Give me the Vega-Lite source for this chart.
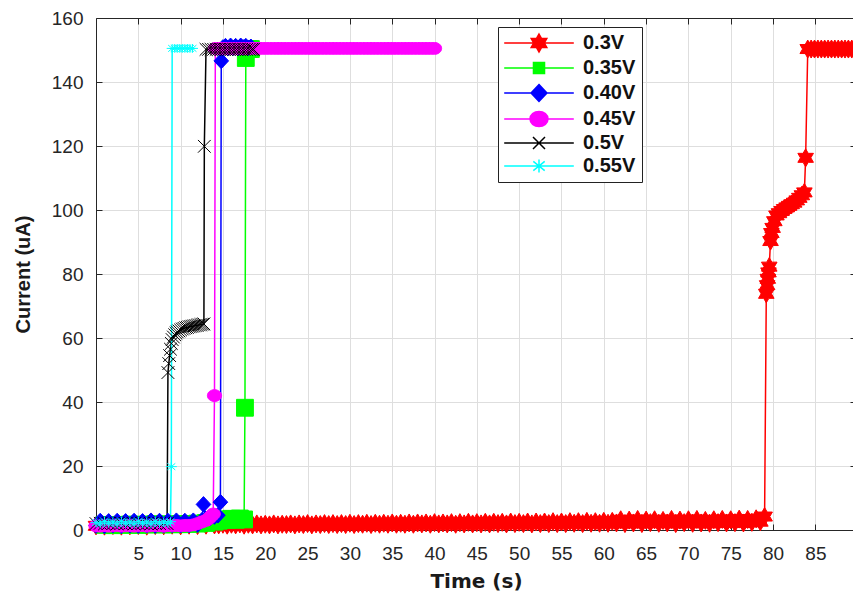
{
 "$schema": "https://vega.github.io/schema/vega-lite/v6.json",
 "autosize": "none",
 "width": 760,
 "height": 512,
 "padding": {"left": 96, "top": 18, "right": 0, "bottom": 64},
 "background": "white",
 "config": {
  "view": {"stroke": null},
  "axis": {
   "labelFont": "Liberation Sans", "labelFontSize": 19, "labelColor": "#262626",
   "titleFont": "Liberation Sans", "titleFontSize": 20, "titleFontWeight": "bold", "titleColor": "#1a1a1a",
   "domainColor": "#262626", "domainWidth": 1, "tickColor": "#262626", "tickWidth": 1,
   "gridColor": "#dedede", "gridWidth": 1, "labelFlush": false, "labelOverlap": false
  },
  "legend": {
   "orient": "none", "legendX": 402, "legendY": 9, "direction": "vertical",
   "strokeColor": "#222222", "fillColor": "white", "padding": 6, "symbolSize": 144, "symbolStrokeWidth": 1.5, "symbolOpacity": 1,
   "symbolOffset": 25, "labelOffset": 34, "rowPadding": 3,
   "labelFont": "Liberation Sans", "labelFontSize": 20, "labelFontWeight": "bold", "labelColor": "#111111"
  }
 },
 "datasets": {
  "d": [
   {"s":"0.3V","t":0,"c":1.3},{"s":"0.3V","t":1,"c":1.2},{"s":"0.3V","t":2,"c":1.4},{"s":"0.3V","t":3,"c":1.2},{"s":"0.3V","t":4,"c":1.3},{"s":"0.3V","t":5,"c":1.4},{"s":"0.3V","t":6,"c":1.2},{"s":"0.3V","t":7,"c":1.4},{"s":"0.3V","t":8,"c":1.3},{"s":"0.3V","t":9,"c":1.5},{"s":"0.3V","t":10,"c":1.3},{"s":"0.3V","t":11,"c":1.5},{"s":"0.3V","t":12,"c":1.4},{"s":"0.3V","t":13,"c":1.5},{"s":"0.3V","t":14,"c":1.6},
   {"s":"0.3V","t":14.5,"c":1.6},{"s":"0.3V","t":15,"c":1.8},{"s":"0.3V","t":15.5,"c":1.5},{"s":"0.3V","t":16,"c":1.8},{"s":"0.3V","t":16.5,"c":1.6},{"s":"0.3V","t":17,"c":1.9},{"s":"0.3V","t":17.5,"c":1.5},{"s":"0.3V","t":18,"c":1.8},{"s":"0.3V","t":18.5,"c":1.6},{"s":"0.3V","t":19,"c":1.9},{"s":"0.3V","t":19.5,"c":1.6},{"s":"0.3V","t":20,"c":1.8},{"s":"0.3V","t":20.5,"c":1.6},{"s":"0.3V","t":21,"c":1.9},{"s":"0.3V","t":21.5,"c":1.6},{"s":"0.3V","t":22,"c":1.8},{"s":"0.3V","t":22.5,"c":1.7},{"s":"0.3V","t":23,"c":1.9},{"s":"0.3V","t":23.5,"c":1.6},{"s":"0.3V","t":24,"c":1.9},{"s":"0.3V","t":24.5,"c":1.7},{"s":"0.3V","t":25,"c":2.0},{"s":"0.3V","t":25.5,"c":1.6},{"s":"0.3V","t":26,"c":1.9},{"s":"0.3V","t":26.5,"c":1.7},{"s":"0.3V","t":27,"c":2.0},{"s":"0.3V","t":27.5,"c":1.7},{"s":"0.3V","t":28,"c":2.0},{"s":"0.3V","t":28.5,"c":1.7},{"s":"0.3V","t":29,"c":2.0},{"s":"0.3V","t":29.5,"c":1.7},{"s":"0.3V","t":30,"c":2.1},{"s":"0.3V","t":30.5,"c":1.7},{"s":"0.3V","t":31,"c":2.0},{"s":"0.3V","t":31.5,"c":1.8},{"s":"0.3V","t":32,"c":2.1},{"s":"0.3V","t":32.5,"c":1.7},{"s":"0.3V","t":33,"c":2.1},{"s":"0.3V","t":33.5,"c":1.8},{"s":"0.3V","t":34,"c":2.1},{"s":"0.3V","t":34.5,"c":1.8},{"s":"0.3V","t":35,"c":2.2},{"s":"0.3V","t":35.5,"c":1.8},{"s":"0.3V","t":36,"c":2.1},{"s":"0.3V","t":36.5,"c":1.8},{"s":"0.3V","t":37,"c":2.2},{"s":"0.3V","t":37.5,"c":1.8},{"s":"0.3V","t":38,"c":2.2},{"s":"0.3V","t":38.5,"c":1.9},{"s":"0.3V","t":39,"c":2.2},{"s":"0.3V","t":39.5,"c":1.8},{"s":"0.3V","t":40,"c":2.3},{"s":"0.3V","t":40.5,"c":1.9},{"s":"0.3V","t":41,"c":2.2},{"s":"0.3V","t":41.5,"c":1.9},{"s":"0.3V","t":42,"c":2.3},{"s":"0.3V","t":42.5,"c":1.8},{"s":"0.3V","t":43,"c":2.3},{"s":"0.3V","t":43.5,"c":1.9},{"s":"0.3V","t":44,"c":2.4},{"s":"0.3V","t":44.5,"c":1.9},{"s":"0.3V","t":45,"c":2.3},{"s":"0.3V","t":45.5,"c":1.9},{"s":"0.3V","t":46,"c":2.4},{"s":"0.3V","t":46.5,"c":1.9},{"s":"0.3V","t":47,"c":2.4},{"s":"0.3V","t":47.5,"c":2.0},{"s":"0.3V","t":48,"c":2.4},{"s":"0.3V","t":48.5,"c":1.9},{"s":"0.3V","t":49,"c":2.5},{"s":"0.3V","t":49.5,"c":2.0},{"s":"0.3V","t":50,"c":2.4},{"s":"0.3V","t":50.5,"c":2.0},{"s":"0.3V","t":51,"c":2.5},{"s":"0.3V","t":51.5,"c":1.9},{"s":"0.3V","t":52,"c":2.5},{"s":"0.3V","t":52.5,"c":2.0},{"s":"0.3V","t":53,"c":2.5},{"s":"0.3V","t":53.5,"c":2.0},{"s":"0.3V","t":54,"c":2.6},{"s":"0.3V","t":54.5,"c":2.0},{"s":"0.3V","t":55,"c":2.5},{"s":"0.3V","t":55.5,"c":2.0},{"s":"0.3V","t":56,"c":2.6},{"s":"0.3V","t":56.5,"c":2.1},{"s":"0.3V","t":57,"c":2.6},{"s":"0.3V","t":57.5,"c":2.0},{"s":"0.3V","t":58,"c":2.7},{"s":"0.3V","t":58.5,"c":2.1},{"s":"0.3V","t":59,"c":2.6},{"s":"0.3V","t":59.5,"c":2.1},{"s":"0.3V","t":60,"c":2.7},{"s":"0.3V","t":60.5,"c":2.1},{"s":"0.3V","t":61,"c":2.7},{"s":"0.3V","t":61.5,"c":2.2},{"s":"0.3V","t":62,"c":3.2},{"s":"0.3V","t":62.5,"c":2.0},{"s":"0.3V","t":63,"c":3.1},{"s":"0.3V","t":63.5,"c":2.2},{"s":"0.3V","t":64,"c":3.3},{"s":"0.3V","t":64.5,"c":2.0},{"s":"0.3V","t":65,"c":3.1},{"s":"0.3V","t":65.5,"c":2.3},{"s":"0.3V","t":66,"c":3.2},{"s":"0.3V","t":66.5,"c":2.1},{"s":"0.3V","t":67,"c":3.0},{"s":"0.3V","t":67.5,"c":2.2},{"s":"0.3V","t":68,"c":3.3},{"s":"0.3V","t":68.5,"c":2.0},{"s":"0.3V","t":69,"c":3.1},{"s":"0.3V","t":69.5,"c":2.3},{"s":"0.3V","t":70,"c":3.2},{"s":"0.3V","t":70.5,"c":2.1},{"s":"0.3V","t":71,"c":3.3},{"s":"0.3V","t":71.5,"c":2.2},{"s":"0.3V","t":72,"c":3.0},{"s":"0.3V","t":72.5,"c":2.1},{"s":"0.3V","t":73,"c":3.2},{"s":"0.3V","t":73.5,"c":2.3},{"s":"0.3V","t":74,"c":3.3},{"s":"0.3V","t":74.5,"c":2.2},{"s":"0.3V","t":75,"c":3.2},{"s":"0.3V","t":75.5,"c":2.3},{"s":"0.3V","t":76,"c":3.4},{"s":"0.3V","t":76.5,"c":2.2},{"s":"0.3V","t":77,"c":3.3},{"s":"0.3V","t":77.5,"c":2.4},{"s":"0.3V","t":78,"c":3.5},{"s":"0.3V","t":78.5,"c":2.6},{"s":"0.3V","t":79,"c":4.2},
   {"s":"0.3V","t":79.2,"c":73.8},{"s":"0.3V","t":79.3,"c":76.5},{"s":"0.3V","t":79.38,"c":78.5},{"s":"0.3V","t":79.46,"c":80.5},{"s":"0.3V","t":79.55,"c":82.3},{"s":"0.3V","t":79.7,"c":90.3},{"s":"0.3V","t":79.8,"c":92.8},{"s":"0.3V","t":79.95,"c":94.4},{"s":"0.3V","t":80.15,"c":96.5},{"s":"0.3V","t":80.4,"c":98.3},{"s":"0.3V","t":80.7,"c":99.0},{"s":"0.3V","t":81.0,"c":99.7},{"s":"0.3V","t":81.3,"c":100.3},{"s":"0.3V","t":81.6,"c":100.8},{"s":"0.3V","t":81.9,"c":101.3},{"s":"0.3V","t":82.2,"c":101.8},{"s":"0.3V","t":82.5,"c":102.3},{"s":"0.3V","t":82.8,"c":103.0},{"s":"0.3V","t":83.1,"c":103.8},{"s":"0.3V","t":83.4,"c":104.6},{"s":"0.3V","t":83.7,"c":105.5},{"s":"0.3V","t":83.85,"c":116.3},{"s":"0.3V","t":84.1,"c":150.3},{"s":"0.3V","t":84.5,"c":150.3},{"s":"0.3V","t":84.9,"c":150.3},{"s":"0.3V","t":85.3,"c":150.3},{"s":"0.3V","t":85.7,"c":150.3},{"s":"0.3V","t":86.1,"c":150.3},{"s":"0.3V","t":86.5,"c":150.3},{"s":"0.3V","t":86.9,"c":150.3},{"s":"0.3V","t":87.3,"c":150.3},{"s":"0.3V","t":87.7,"c":150.3},{"s":"0.3V","t":88.1,"c":150.3},{"s":"0.3V","t":88.5,"c":150.3},{"s":"0.3V","t":88.9,"c":150.3},{"s":"0.3V","t":89.3,"c":150.3},{"s":"0.3V","t":89.7,"c":150.3},

   {"s":"0.35V","t":1,"c":1.6},{"s":"0.35V","t":2,"c":1.5},{"s":"0.35V","t":3,"c":1.6},{"s":"0.35V","t":4,"c":1.7},{"s":"0.35V","t":5,"c":1.6},{"s":"0.35V","t":6,"c":1.7},{"s":"0.35V","t":7,"c":1.8},{"s":"0.35V","t":8,"c":1.7},{"s":"0.35V","t":9,"c":1.8},{"s":"0.35V","t":10,"c":1.8},{"s":"0.35V","t":11,"c":1.9},{"s":"0.35V","t":12,"c":2.0},{"s":"0.35V","t":13,"c":2.2},{"s":"0.35V","t":14,"c":2.6},{"s":"0.35V","t":14.5,"c":2.9},{"s":"0.35V","t":15,"c":3.3},{"s":"0.35V","t":15.5,"c":3.2},{"s":"0.35V","t":16,"c":3.5},{"s":"0.35V","t":16.5,"c":3.2},{"s":"0.35V","t":17,"c":3.6},{"s":"0.35V","t":17.5,"c":3.3},{"s":"0.35V","t":17.6,"c":38.2},{"s":"0.35V","t":17.7,"c":147.5},{"s":"0.35V","t":18.0,"c":150.3},{"s":"0.35V","t":18.3,"c":150.3},

   {"s":"0.40V","t":0,"c":1.4},{"s":"0.40V","t":0.5,"c":2.8},{"s":"0.40V","t":1,"c":1.3},{"s":"0.40V","t":1.5,"c":2.7},{"s":"0.40V","t":2,"c":1.5},{"s":"0.40V","t":2.5,"c":2.8},{"s":"0.40V","t":3,"c":1.3},{"s":"0.40V","t":3.5,"c":2.7},{"s":"0.40V","t":4,"c":1.5},{"s":"0.40V","t":4.5,"c":2.8},{"s":"0.40V","t":5,"c":1.4},{"s":"0.40V","t":5.5,"c":2.7},{"s":"0.40V","t":6,"c":1.5},{"s":"0.40V","t":6.5,"c":2.9},{"s":"0.40V","t":7,"c":1.4},{"s":"0.40V","t":7.5,"c":2.8},{"s":"0.40V","t":8,"c":1.5},{"s":"0.40V","t":8.5,"c":2.8},{"s":"0.40V","t":9,"c":1.6},{"s":"0.40V","t":9.5,"c":2.9},{"s":"0.40V","t":10,"c":1.5},{"s":"0.40V","t":10.5,"c":2.8},{"s":"0.40V","t":11,"c":1.6},{"s":"0.40V","t":11.5,"c":2.9},{"s":"0.40V","t":12,"c":1.7},{"s":"0.40V","t":12.5,"c":3.0},{"s":"0.40V","t":12.7,"c":8.0},{"s":"0.40V","t":13,"c":3.5},{"s":"0.40V","t":13.5,"c":3.8},{"s":"0.40V","t":14,"c":4.2},{"s":"0.40V","t":14.4,"c":4.6},{"s":"0.40V","t":14.7,"c":8.7},{"s":"0.40V","t":14.8,"c":146.6},{"s":"0.40V","t":15.0,"c":150.8},{"s":"0.40V","t":15.3,"c":151.2},{"s":"0.40V","t":15.6,"c":150.6},{"s":"0.40V","t":15.9,"c":151.3},{"s":"0.40V","t":16.2,"c":150.7},{"s":"0.40V","t":16.5,"c":151.2},{"s":"0.40V","t":16.8,"c":150.6},{"s":"0.40V","t":17.1,"c":151.3},{"s":"0.40V","t":17.4,"c":150.8},{"s":"0.40V","t":17.7,"c":151.2},{"s":"0.40V","t":18.0,"c":150.7},{"s":"0.40V","t":18.3,"c":151.0},

   {"s":"0.45V","t":0,"c":1.3},{"s":"0.45V","t":0.5,"c":1.2},{"s":"0.45V","t":1,"c":1.4},{"s":"0.45V","t":1.5,"c":1.2},{"s":"0.45V","t":2,"c":1.3},{"s":"0.45V","t":2.5,"c":1.4},{"s":"0.45V","t":3,"c":1.2},{"s":"0.45V","t":3.5,"c":1.3},{"s":"0.45V","t":4,"c":1.4},{"s":"0.45V","t":4.5,"c":1.2},{"s":"0.45V","t":5,"c":1.3},{"s":"0.45V","t":5.5,"c":1.4},{"s":"0.45V","t":6,"c":1.2},{"s":"0.45V","t":6.5,"c":1.3},{"s":"0.45V","t":7,"c":1.4},{"s":"0.45V","t":7.5,"c":1.3},{"s":"0.45V","t":8,"c":1.2},{"s":"0.45V","t":8.5,"c":1.4},{"s":"0.45V","t":9,"c":1.3},{"s":"0.45V","t":9.5,"c":1.4},{"s":"0.45V","t":10,"c":1.3},{"s":"0.45V","t":10.5,"c":1.4},{"s":"0.45V","t":11,"c":1.4},{"s":"0.45V","t":11.5,"c":1.6},{"s":"0.45V","t":12,"c":2.0},{"s":"0.45V","t":12.5,"c":2.5},{"s":"0.45V","t":13,"c":3.0},{"s":"0.45V","t":13.3,"c":3.5},{"s":"0.45V","t":13.6,"c":4.3},{"s":"0.45V","t":13.85,"c":5.0},{"s":"0.45V","t":14.0,"c":42.0},{"s":"0.45V","t":14.1,"c":150.5},{"s":"0.45V","t":14.5,"c":150.5},{"s":"0.45V","t":15,"c":150.5},{"s":"0.45V","t":15.5,"c":150.5},{"s":"0.45V","t":16,"c":150.5},{"s":"0.45V","t":16.5,"c":150.5},{"s":"0.45V","t":17,"c":150.5},{"s":"0.45V","t":17.5,"c":150.5},{"s":"0.45V","t":18,"c":150.5},{"s":"0.45V","t":18.5,"c":150.5},{"s":"0.45V","t":19,"c":150.5},{"s":"0.45V","t":19.5,"c":150.5},{"s":"0.45V","t":20,"c":150.5},{"s":"0.45V","t":20.5,"c":150.5},{"s":"0.45V","t":21,"c":150.5},{"s":"0.45V","t":21.5,"c":150.5},{"s":"0.45V","t":22,"c":150.5},{"s":"0.45V","t":22.5,"c":150.5},{"s":"0.45V","t":23,"c":150.5},{"s":"0.45V","t":23.5,"c":150.5},{"s":"0.45V","t":24,"c":150.5},{"s":"0.45V","t":24.5,"c":150.5},{"s":"0.45V","t":25,"c":150.5},{"s":"0.45V","t":25.5,"c":150.5},{"s":"0.45V","t":26,"c":150.5},{"s":"0.45V","t":26.5,"c":150.5},{"s":"0.45V","t":27,"c":150.5},{"s":"0.45V","t":27.5,"c":150.5},{"s":"0.45V","t":28,"c":150.5},{"s":"0.45V","t":28.5,"c":150.5},{"s":"0.45V","t":29,"c":150.5},{"s":"0.45V","t":29.5,"c":150.5},{"s":"0.45V","t":30,"c":150.5},{"s":"0.45V","t":30.5,"c":150.5},{"s":"0.45V","t":31,"c":150.5},{"s":"0.45V","t":31.5,"c":150.5},{"s":"0.45V","t":32,"c":150.5},{"s":"0.45V","t":32.5,"c":150.5},{"s":"0.45V","t":33,"c":150.5},{"s":"0.45V","t":33.5,"c":150.5},{"s":"0.45V","t":34,"c":150.5},{"s":"0.45V","t":34.5,"c":150.5},{"s":"0.45V","t":35,"c":150.5},{"s":"0.45V","t":35.5,"c":150.5},{"s":"0.45V","t":36,"c":150.5},{"s":"0.45V","t":36.5,"c":150.5},{"s":"0.45V","t":37,"c":150.5},{"s":"0.45V","t":37.5,"c":150.5},{"s":"0.45V","t":38,"c":150.5},{"s":"0.45V","t":38.5,"c":150.5},{"s":"0.45V","t":39,"c":150.5},{"s":"0.45V","t":39.5,"c":150.5},{"s":"0.45V","t":40,"c":150.5},

   {"s":"0.5V","t":0,"c":2.0},{"s":"0.5V","t":0.5,"c":2.1},{"s":"0.5V","t":1,"c":1.9},{"s":"0.5V","t":1.5,"c":2.1},{"s":"0.5V","t":2,"c":2.0},{"s":"0.5V","t":2.5,"c":1.9},{"s":"0.5V","t":3,"c":2.1},{"s":"0.5V","t":3.5,"c":2.0},{"s":"0.5V","t":4,"c":2.1},{"s":"0.5V","t":4.5,"c":1.9},{"s":"0.5V","t":5,"c":2.0},{"s":"0.5V","t":5.5,"c":2.1},{"s":"0.5V","t":6,"c":2.0},{"s":"0.5V","t":6.5,"c":1.9},{"s":"0.5V","t":7,"c":2.1},{"s":"0.5V","t":7.5,"c":2.0},{"s":"0.5V","t":8,"c":2.1},{"s":"0.5V","t":8.4,"c":2.0},{"s":"0.5V","t":8.5,"c":49.2},{"s":"0.5V","t":8.6,"c":52.0},{"s":"0.5V","t":8.7,"c":54.5},{"s":"0.5V","t":8.8,"c":56.5},{"s":"0.5V","t":8.9,"c":58.3},{"s":"0.5V","t":9.0,"c":59.5},{"s":"0.5V","t":9.15,"c":60.3},{"s":"0.5V","t":9.3,"c":61.0},{"s":"0.5V","t":9.45,"c":61.5},{"s":"0.5V","t":9.6,"c":61.9},{"s":"0.5V","t":9.8,"c":62.2},{"s":"0.5V","t":10.0,"c":62.5},{"s":"0.5V","t":10.2,"c":62.8},{"s":"0.5V","t":10.4,"c":63.0},{"s":"0.5V","t":10.6,"c":63.2},{"s":"0.5V","t":10.8,"c":63.3},{"s":"0.5V","t":11.0,"c":63.5},{"s":"0.5V","t":11.2,"c":63.6},{"s":"0.5V","t":11.4,"c":63.7},{"s":"0.5V","t":11.6,"c":63.8},{"s":"0.5V","t":11.8,"c":63.9},{"s":"0.5V","t":12.0,"c":64.0},{"s":"0.5V","t":12.2,"c":64.1},{"s":"0.5V","t":12.4,"c":64.2},{"s":"0.5V","t":12.6,"c":64.3},{"s":"0.5V","t":12.75,"c":64.4},{"s":"0.5V","t":12.8,"c":119.9},{"s":"0.5V","t":13.0,"c":150.2},{"s":"0.5V","t":13.3,"c":150.2},{"s":"0.5V","t":13.6,"c":150.2},{"s":"0.5V","t":13.9,"c":150.2},{"s":"0.5V","t":14.2,"c":150.2},{"s":"0.5V","t":14.5,"c":150.2},{"s":"0.5V","t":14.8,"c":150.2},{"s":"0.5V","t":15.1,"c":150.2},{"s":"0.5V","t":15.4,"c":150.2},{"s":"0.5V","t":15.7,"c":150.2},{"s":"0.5V","t":16.0,"c":150.2},{"s":"0.5V","t":16.3,"c":150.2},{"s":"0.5V","t":16.6,"c":150.2},{"s":"0.5V","t":16.9,"c":150.2},{"s":"0.5V","t":17.2,"c":150.2},{"s":"0.5V","t":17.5,"c":150.2},{"s":"0.5V","t":17.8,"c":150.2},{"s":"0.5V","t":18.1,"c":150.2},{"s":"0.5V","t":18.4,"c":150.2},{"s":"0.5V","t":18.6,"c":150.2},

   {"s":"0.55V","t":0,"c":2.3},{"s":"0.55V","t":0.5,"c":1.9},{"s":"0.55V","t":1,"c":2.7},{"s":"0.55V","t":1.5,"c":2.1},{"s":"0.55V","t":2,"c":2.5},{"s":"0.55V","t":2.5,"c":1.9},{"s":"0.55V","t":3,"c":2.7},{"s":"0.55V","t":3.5,"c":2.1},{"s":"0.55V","t":4,"c":2.5},{"s":"0.55V","t":4.5,"c":1.9},{"s":"0.55V","t":5,"c":2.7},{"s":"0.55V","t":5.5,"c":2.1},{"s":"0.55V","t":6,"c":2.5},{"s":"0.55V","t":6.5,"c":1.9},{"s":"0.55V","t":7,"c":2.7},{"s":"0.55V","t":7.5,"c":2.1},{"s":"0.55V","t":8,"c":2.5},{"s":"0.55V","t":8.5,"c":2.0},{"s":"0.55V","t":8.8,"c":2.6},{"s":"0.55V","t":8.9,"c":19.8},{"s":"0.55V","t":9.0,"c":150.5},{"s":"0.55V","t":9.3,"c":150.5},{"s":"0.55V","t":9.6,"c":150.5},{"s":"0.55V","t":9.9,"c":150.5},{"s":"0.55V","t":10.2,"c":150.5},{"s":"0.55V","t":10.5,"c":150.5},{"s":"0.55V","t":10.8,"c":150.5},{"s":"0.55V","t":11.1,"c":150.5},{"s":"0.55V","t":11.4,"c":150.5}
  ]
 },
 "data": {"name": "d"},
 "layer": [
  {
   "mark": {"type": "line", "strokeWidth": 1.5},
   "encoding": {
    "x": {"field": "t", "type": "quantitative", "scale": {"domain": [0, 89.8], "nice": false, "zero": false},
     "axis": {"orient": "bottom", "values": [5,10,15,20,25,30,35,40,45,50,55,60,65,70,75,80,85], "title": "Time (s)", "titleFont": "DejaVu Sans", "grid": true, "tickSize": -6, "labelPadding": 20, "titlePadding": 8}},
    "y": {"field": "c", "type": "quantitative", "scale": {"domain": [0, 160], "nice": false},
     "axis": {"orient": "left", "values": [0,20,40,60,80,100,120,140,160], "title": "Current (uA)", "grid": true, "tickSize": -6, "labelPadding": 19, "titlePadding": 18}},
    "color": {"field": "s", "type": "nominal", "legend": null,
     "scale": {"domain": ["0.3V","0.35V","0.40V","0.45V","0.5V","0.55V"], "range": ["#ff0000","#00ff00","#0000ff","#ff00ff","#000000","#00ffff"]}}
   }
  },
  {
   "mark": {"type": "point", "opacity": 1, "strokeWidth": 1},
   "encoding": {
    "x": {"field": "t", "type": "quantitative", "axis": null},
    "y": {"field": "c", "type": "quantitative", "axis": null},
    "fill": {"field": "s", "type": "nominal", "legend": null,
     "scale": {"domain": ["0.3V","0.35V","0.40V","0.45V","0.5V","0.55V"], "range": ["#ff0000","#00ff00","#0000ff","#ff00ff","#000000","#00ffff"]}},
    "stroke": {"field": "s", "type": "nominal", "legend": null,
     "scale": {"domain": ["0.3V","0.35V","0.40V","0.45V","0.5V","0.55V"], "range": ["#ff0000","#00ff00","#0000ff","#ff00ff","#000000","#00ffff"]}},
    "shape": {"field": "s", "type": "nominal", "legend": null,
     "scale": {"domain": ["0.3V","0.35V","0.40V","0.45V","0.5V","0.55V"], "range": [
      "M0,-1L0.289,-0.5L0.866,-0.5L0.577,0L0.866,0.5L0.289,0.5L0,1L-0.289,0.5L-0.866,0.5L-0.577,0L-0.866,-0.5L-0.289,-0.5Z",
      "square",
      "M0,-1L0.94,0L0,1L-0.94,0Z",
      "M-1,0A1,0.83 0 1,0 1,0A1,0.83 0 1,0 -1,0Z",
      "M-1,-1L1,1M-1,1L1,-1",
      "M-1,0L1,0M0,-0.8L0,0.8M-0.72,-0.6L0.72,0.6M-0.72,0.6L0.72,-0.6"]}},
    "size": {"field": "s", "type": "nominal", "legend": null,
     "scale": {"domain": ["0.3V","0.35V","0.40V","0.45V","0.5V","0.55V"], "range": [324, 121, 289, 324, 144, 256]}}
   }
  },
  {
   "transform": [{"filter": "datum.t < -100"}],
   "mark": {"type": "point", "opacity": 1, "strokeWidth": 1.5},
   "encoding": {
    "x": {"field": "t", "type": "quantitative",
     "axis": {"orient": "top", "values": [5,10,15,20,25,30,35,40,45,50,55,60,65,70,75,80,85], "labels": false, "title": null, "grid": false, "tickSize": -6}},
    "y": {"field": "c", "type": "quantitative",
     "axis": {"orient": "right", "values": [0,20,40,60,80,100,120,140,160], "labels": false, "title": null, "grid": false, "tickSize": -6}},
    "fill": {"field": "s", "type": "nominal", "legend": {"title": null},
     "scale": {"domain": ["0.3V","0.35V","0.40V","0.45V","0.5V","0.55V"], "range": ["#ff0000","#00ff00","#0000ff","#ff00ff","#000000","#00ffff"]}},
    "stroke": {"field": "s", "type": "nominal", "legend": {"title": null},
     "scale": {"domain": ["0.3V","0.35V","0.40V","0.45V","0.5V","0.55V"], "range": ["#ff0000","#00ff00","#0000ff","#ff00ff","#000000","#00ffff"]}},
    "shape": {"field": "s", "type": "nominal", "legend": {"title": null},
     "scale": {"domain": ["0.3V","0.35V","0.40V","0.45V","0.5V","0.55V"], "range": [
      "M-5.8,0L5.8,0M0,-1.5L0.433,-0.75L1.3,-0.75L0.866,0L1.3,0.75L0.433,0.75L0,1.5L-0.433,0.75L-1.3,0.75L-0.866,0L-1.3,-0.75L-0.433,-0.75Z",
      "M-5.8,0L5.8,0M-0.92,-0.92L0.92,-0.92L0.92,0.92L-0.92,0.92Z",
      "M-5.8,0L5.8,0M0,-1.42L1.33,0L0,1.42L-1.33,0Z",
      "M-5.8,0L5.8,0M-1.5,0A1.5,1.25 0 1,0 1.5,0A1.5,1.25 0 1,0 -1.5,0Z",
      "M-5.8,0L5.8,0M-1,-1L1,1M-1,1L1,-1",
      "M-5.8,0L5.8,0M0,-1.08L0,1.08M-0.95,-0.78L0.95,0.78M-0.95,0.78L0.95,-0.78M-1.33,0L1.33,0"]}}
   }
  }
 ],
 "resolve": {
  "scale": {"fill": "independent", "stroke": "independent", "shape": "independent", "size": "independent", "color": "independent"},
  "axis": {"x": "independent", "y": "independent"}
 }
}
